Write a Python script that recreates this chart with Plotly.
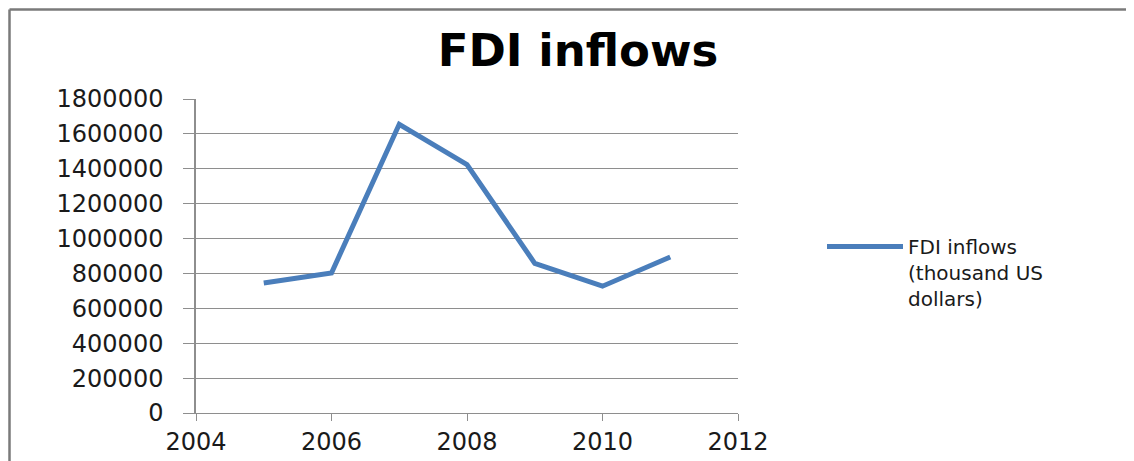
import plotly.graph_objects as go

years = [2005, 2006, 2007, 2008, 2009, 2010, 2011]
fdi_inflows = [745000, 803000, 1655000, 1424000, 858000, 727000, 894000]
series_name = "FDI inflows<br>(thousand US<br>dollars)"
chart_title = "FDI inflows"

OFF = 8  # page body margin
W, H = 1134 - OFF, 461 - OFF
# plot area in reference pixels: x 196..738, y 99..413
L, T = 196 - OFF, 99 - OFF
R = (1134 - 738)
B = 461 - 413
pw, ph = W - L - R, H - T - B

def px_x(p):
    return (p - OFF - L) / pw

def px_y(p):
    return (H - B - (p - OFF)) / ph

fig = go.Figure()
fig.add_trace(go.Scatter(
    x=years, y=fdi_inflows, mode="lines", name=series_name,
    line=dict(color="#4A7EBB", width=5),
))

grid = "#8E8E8E"
font = "DejaVu Sans"
fig.update_layout(
    width=W, height=H,
    margin=dict(l=L, r=R, t=T, b=B, autoexpand=False),
    paper_bgcolor="white", plot_bgcolor="white",
    font=dict(family=font, color="#1a1a1a", size=20),
    title=dict(text="<b>" + chart_title + "</b>", x=(578 - OFF) / W, xref="container", xanchor="center",
               y=1 - (50 - OFF) / H, yref="container", yanchor="middle",
               font=dict(family=font, size=45, color="black")),
    showlegend=True,
    legend=dict(x=px_x(822), xanchor="left", y=px_y(227), yanchor="top",
                itemwidth=76, valign="top",
                font=dict(size=20, family=font, color="#1a1a1a"),
                bgcolor="rgba(0,0,0,0)"),
    xaxis=dict(range=[2004, 2012], tickvals=[2004, 2006, 2008, 2010, 2012], automargin=False,
               showgrid=False, zeroline=False, showline=True, linecolor=grid, linewidth=1.2,
               ticks="outside", ticklen=7, tickcolor=grid, tickwidth=1.2,
               ticklabelstandoff=0, tickfont=dict(size=24)),
    yaxis=dict(range=[0, 1800000], dtick=200000, tickformat="d", automargin=False,
               showgrid=True, gridcolor=grid, gridwidth=1.2, zeroline=False,
               showline=True, linecolor=grid, linewidth=1.5,
               ticks="outside", ticklen=11, tickcolor=grid, tickwidth=1.2,
               ticklabelstandoff=15, tickfont=dict(size=24)),
    shapes=[
        dict(type="line", xref="paper", yref="paper", x0=px_x(9.5), x1=px_x(1140),
             y0=px_y(9.5), y1=px_y(9.5), line=dict(color="#7A7A7A", width=2.5)),
        dict(type="line", xref="paper", yref="paper", x0=px_x(9.5), x1=px_x(9.5),
             y0=px_y(9.5), y1=px_y(470), line=dict(color="#7A7A7A", width=2.5)),
    ],
)

fig.write_html("out.html")
